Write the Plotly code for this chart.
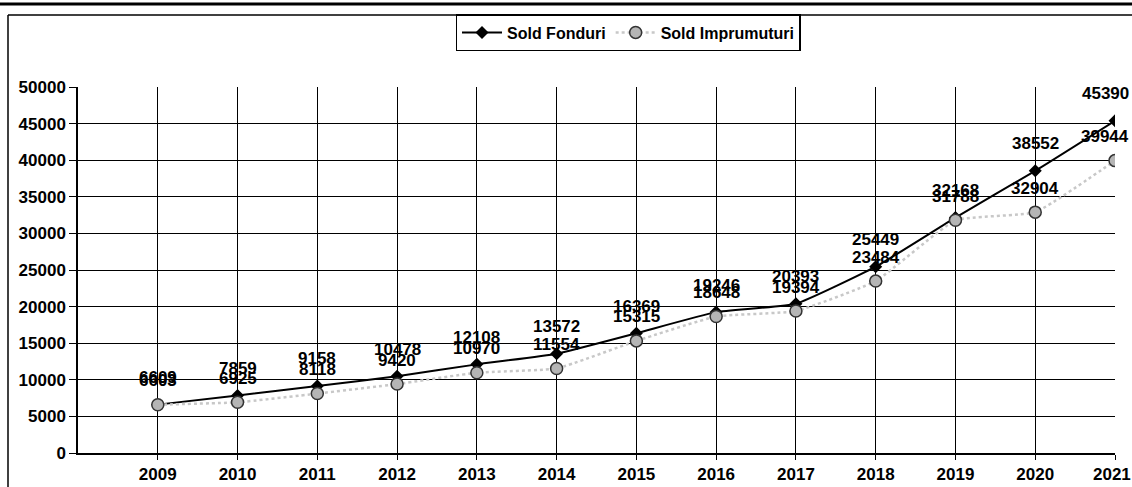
import plotly.graph_objects as go

years = [2009, 2010, 2011, 2012, 2013, 2014, 2015, 2016, 2017, 2018, 2019, 2020, 2021]
sold_fonduri = [6609, 7859, 9158, 10478, 12108, 13572, 16369, 19246, 20393, 25449, 32168, 38552, 45390]
sold_imprumuturi = [6603, 6925, 8118, 9420, 10970, 11554, 15315, 18648, 19394, 23484, 31788, 32904, 39944]
y_ticks = [0, 5000, 10000, 15000, 20000, 25000, 30000, 35000, 40000, 45000, 50000]
x_ticktext = [str(y) for y in years]

W, H = 1132, 487
L, R, T, B = 78, 17, 87, 34
FONT = "Liberation Sans, Arial, sans-serif"
FS = 17

def px_x(px):
    return (px - L) / (W - L - R)

def px_y(py):
    return (H - B - py) / (H - T - B)

fig = go.Figure()
fig.add_trace(go.Scatter(
    x=years, y=sold_fonduri, name="Sold Fonduri", mode="lines+markers",
    line=dict(color="black", width=2, shape="spline", smoothing=0.4),
    marker=dict(symbol="diamond", size=10, color="black"),
))
fig.add_trace(go.Scatter(
    x=years, y=sold_imprumuturi, name="Sold Imprumuturi", mode="lines+markers",
    line=dict(color="#c8c8c8", width=2.5, dash="dot", shape="spline", smoothing=0.4),
    marker=dict(symbol="circle", size=12, color="#b5b5b5", line=dict(color="#333333", width=1.5)),
))

n = len(years)
for i, (yr, v) in enumerate(zip(years, sold_fonduri)):
    fig.add_annotation(x=yr, y=v, text=str(v), showarrow=False, yshift=27,
                       xshift=-10 if i == n - 1 else 0,
                       font=dict(family=FONT, size=FS, color="black", weight="bold"))
for i, (yr, v) in enumerate(zip(years, sold_imprumuturi)):
    fig.add_annotation(x=yr, y=v, text=str(v), showarrow=False, yshift=24,
                       xshift=-10 if i == n - 1 else 0,
                       font=dict(family=FONT, size=FS, color="black", weight="bold"))

# last category label pulled inside the page edge (as in the reference)
fig.add_annotation(x=years[-1], xref="x", y=0, yref="paper", text=x_ticktext[-1], showarrow=False,
                   xanchor="right", xshift=18, yanchor="top", yshift=-10,
                   font=dict(family=FONT, size=FS, color="black", weight="bold"))

# outer frame and page line
fig.add_shape(type="line", xref="paper", yref="paper", x0=px_x(8), x1=px_x(8), y0=px_y(15), y1=px_y(490),
              line=dict(color="black", width=1.5))
fig.add_shape(type="line", xref="paper", yref="paper", x0=px_x(8), x1=px_x(1140), y0=px_y(15), y1=px_y(15),
              line=dict(color="black", width=1.5))
fig.add_shape(type="line", xref="paper", yref="paper", x0=px_x(-5), x1=px_x(1140), y0=px_y(4), y1=px_y(4),
              line=dict(color="black", width=3))

fig.update_layout(
    width=W, height=H,
    margin=dict(l=L, r=R, t=T, b=B, autoexpand=False),
    paper_bgcolor="white", plot_bgcolor="white",
    font=dict(family=FONT, size=FS, color="black"),
    showlegend=True,
    legend=dict(orientation="h", xref="container", yref="container",
                x=628 / W, xanchor="center", y=1 - 14 / H, yanchor="top",
                bgcolor="white", bordercolor="black", borderwidth=1.5,
                font=dict(family=FONT, size=16, color="black", weight="bold"),
                itemwidth=40, tracegroupgap=0),
    xaxis=dict(range=[2008, 2021], tickmode="array", tickvals=years,
               ticktext=x_ticktext[:-1] + [""],
               showgrid=True, gridcolor="black", gridwidth=1, zeroline=False, automargin=False,
               showline=True, linecolor="black", linewidth=1.5, ticklabeloverflow="allow",
               ticks="outside", ticklen=5, tickcolor="black",
               tickfont=dict(family=FONT, size=FS, color="black", weight="bold")),
    yaxis=dict(range=[0, 50000], tickmode="array", tickvals=y_ticks, ticktext=[str(v) for v in y_ticks],
               showgrid=True, gridcolor="black", gridwidth=1, zeroline=False, automargin=False,
               showline=True, linecolor="black", linewidth=1.5,
               ticks="outside", ticklen=7, tickcolor="black",
               tickfont=dict(family=FONT, size=FS, color="black", weight="bold")),
)

fig.write_html("out.html", config={"displayModeBar": False},
               post_script="document.body.style.margin='0';document.body.style.overflow='hidden';")
